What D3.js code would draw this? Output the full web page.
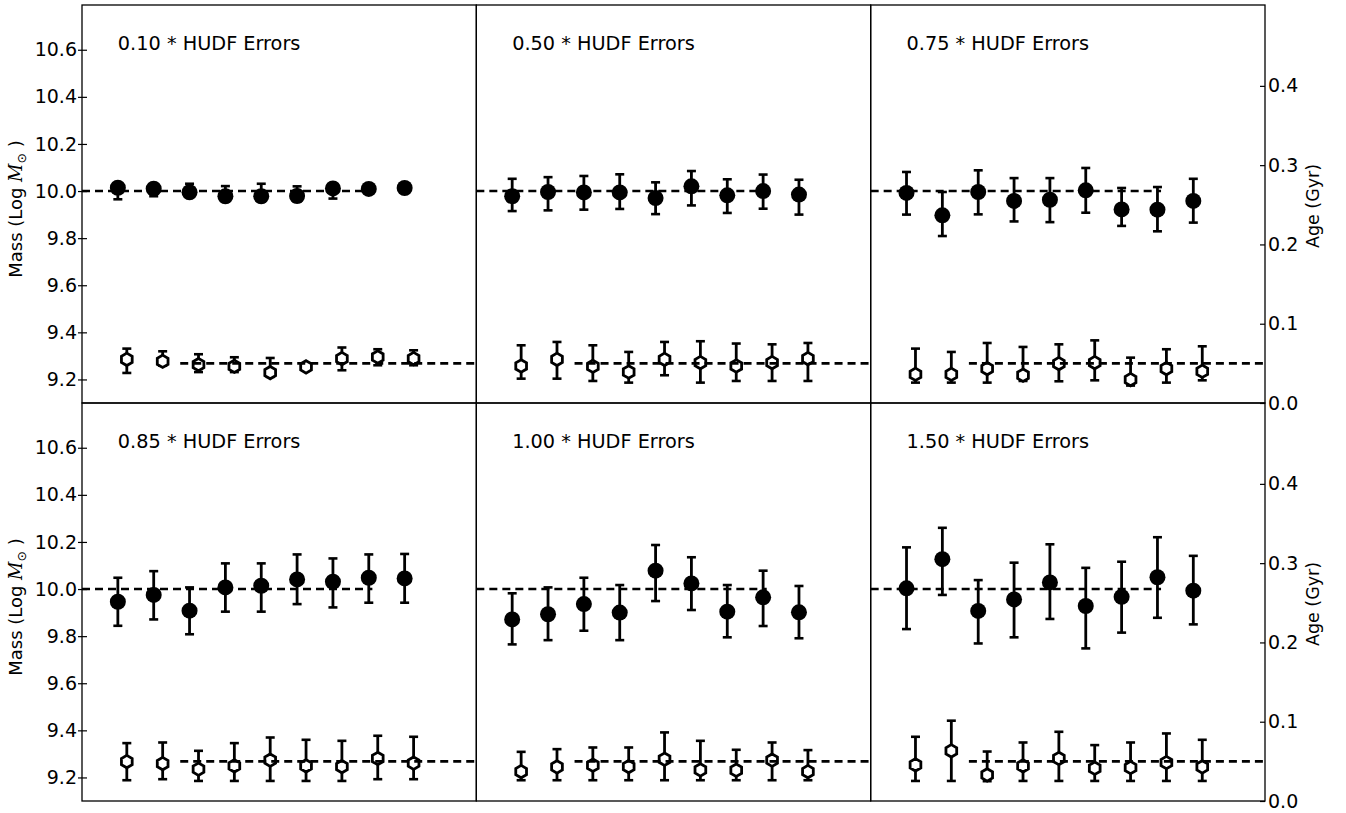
<!DOCTYPE html>
<html><head><meta charset="utf-8">
<script src="https://cdn.jsdelivr.net/npm/d3@7"></script>
<style>body{margin:0;background:#fff}svg{display:block}</style>
</head><body><svg id="c" width="1346" height="813"></svg>
<script>
// ---------------- data ----------------
const errFactors = ["0.10", "0.50", "0.75", "0.85", "1.00", "1.50"];
const runIndex = [1, 2, 3, 4, 5, 6, 7, 8, 9];
const massTicks = [9.2, 9.4, 9.6, 9.8, 10.0, 10.2, 10.4, 10.6];
const ageTicks = [0.0, 0.1, 0.2, 0.3, 0.4];
const trueMass = 10.0;
const trueAge = 0.05;

const massMid = [
  [10.014, 10.010, 9.995, 9.978, 9.978, 9.979, 10.011, 10.009, 10.013],
  [9.978, 9.996, 9.994, 9.994, 9.970, 10.020, 9.982, 10.000, 9.985],
  [9.992, 9.897, 9.996, 9.958, 9.963, 10.003, 9.922, 9.921, 9.958],
  [9.946, 9.975, 9.908, 10.007, 10.014, 10.041, 10.031, 10.048, 10.045],
  [9.871, 9.893, 9.936, 9.900, 10.078, 10.024, 9.904, 9.965, 9.901],
  [10.003, 10.127, 9.907, 9.956, 10.028, 9.928, 9.967, 10.050, 9.993]
];
const massHigh = [
  [10.030, 10.025, 10.031, 10.021, 10.031, 10.020, 10.030, 10.020, 10.025],
  [10.052, 10.059, 10.064, 10.071, 10.037, 10.085, 10.050, 10.070, 10.048],
  [10.081, 9.996, 10.088, 10.055, 10.055, 10.098, 10.013, 10.017, 10.052],
  [10.048, 10.076, 10.007, 10.109, 10.109, 10.147, 10.130, 10.147, 10.149],
  [9.982, 10.007, 10.048, 10.017, 10.187, 10.135, 10.017, 10.078, 10.013],
  [10.177, 10.260, 10.038, 10.112, 10.190, 10.090, 10.116, 10.220, 10.141]
];
const massLow = [
  [9.965, 9.978, 9.975, 9.955, 9.955, 9.955, 9.968, 9.995, 10.000],
  [9.915, 9.918, 9.921, 9.924, 9.902, 9.939, 9.907, 9.925, 9.900],
  [9.900, 9.809, 9.901, 9.871, 9.868, 9.908, 9.852, 9.829, 9.866],
  [9.844, 9.871, 9.808, 9.904, 9.904, 9.936, 9.922, 9.942, 9.942],
  [9.765, 9.783, 9.823, 9.783, 9.949, 9.911, 9.795, 9.843, 9.791],
  [9.830, 9.975, 9.769, 9.795, 9.873, 9.748, 9.815, 9.878, 9.850]
];
const ageMid = [
  [0.0551, 0.0526, 0.0484, 0.0463, 0.0383, 0.0455, 0.0560, 0.0580, 0.0560],
  [0.0467, 0.0551, 0.0463, 0.0391, 0.0551, 0.0510, 0.0467, 0.0510, 0.0560],
  [0.0362, 0.0362, 0.0434, 0.0350, 0.0497, 0.0510, 0.0295, 0.0434, 0.0400],
  [0.0497, 0.0472, 0.0401, 0.0443, 0.0515, 0.0443, 0.0434, 0.0536, 0.0477],
  [0.0371, 0.0430, 0.0451, 0.0434, 0.0527, 0.0392, 0.0388, 0.0515, 0.0371],
  [0.0456, 0.0633, 0.0329, 0.0443, 0.0536, 0.0413, 0.0422, 0.0485, 0.0430]
];
const ageHigh = [
  [0.0686, 0.0652, 0.0615, 0.0577, 0.0568, 0.0490, 0.0700, 0.0678, 0.0665],
  [0.0728, 0.0770, 0.0728, 0.0644, 0.0770, 0.0779, 0.0750, 0.0740, 0.0757],
  [0.0686, 0.0644, 0.0757, 0.0707, 0.0740, 0.0790, 0.0572, 0.0678, 0.0715],
  [0.0730, 0.0738, 0.0633, 0.0730, 0.0801, 0.0772, 0.0759, 0.0823, 0.0810],
  [0.0620, 0.0654, 0.0675, 0.0675, 0.0865, 0.0759, 0.0646, 0.0738, 0.0642],
  [0.0810, 0.1013, 0.0624, 0.0738, 0.0873, 0.0705, 0.0738, 0.0852, 0.0772]
];
const ageLow = [
  [0.0379, 0.0470, 0.0390, 0.0390, 0.0330, 0.0420, 0.0413, 0.0476, 0.0476],
  [0.0307, 0.0307, 0.0278, 0.0257, 0.0350, 0.0257, 0.0278, 0.0278, 0.0278],
  [0.0257, 0.0257, 0.0257, 0.0278, 0.0274, 0.0286, 0.0220, 0.0257, 0.0286],
  [0.0262, 0.0275, 0.0253, 0.0253, 0.0253, 0.0253, 0.0253, 0.0275, 0.0275],
  [0.0262, 0.0262, 0.0262, 0.0262, 0.0262, 0.0262, 0.0262, 0.0262, 0.0262],
  [0.0253, 0.0253, 0.0250, 0.0253, 0.0253, 0.0253, 0.0253, 0.0253, 0.0253]
];
// reference lines extent in x (data units)
const massLineX = [0, 8.1];
const ageLineX = [2.74, 11];
const ageOffset = 0.25;

// ---------------- layout ----------------
const L = 82, R = 1265, T = 5, B = 801;
const pw = (R - L) / 3, ph = (B - T) / 2;
const FONT = "'DejaVu Sans', sans-serif";
const svg = d3.select("#c");
svg.append("rect").attr("width", 1346).attr("height", 813).attr("fill", "#fff");

function hexPath(r) {
  const pts = d3.range(6).map(i => {
    const ang = -Math.PI / 2 + i * Math.PI / 3;
    return [r * Math.cos(ang), r * Math.sin(ang)];
  });
  return "M" + pts.map(p => p.join(",")).join("L") + "Z";
}

errFactors.forEach((fac, p) => {
  const row = Math.floor(p / 3), col = p % 3;
  const x0 = L + col * pw, y0 = T + row * ph;
  const x = d3.scaleLinear().domain([0, 11]).range([x0, x0 + pw]);
  const m = d3.scaleLinear().domain([9.1, 10.79]).range([y0 + ph, y0]);
  const a = d3.scaleLinear().domain([0, 0.502]).range([y0 + ph, y0]);
  const g = svg.append("g");

  // mass reference line
  g.append("line")
    .attr("x1", x(massLineX[0])).attr("x2", x(massLineX[1]))
    .attr("y1", m(trueMass)).attr("y2", m(trueMass))
    .attr("stroke", "#000").attr("stroke-width", 2.6).attr("stroke-dasharray", "8,5");

  // mass error bars
  const cap = 4.5;
  runIndex.forEach((r, i) => {
    const cx = x(r);
    g.append("line").attr("x1", cx).attr("x2", cx)
      .attr("y1", m(massLow[p][i])).attr("y2", m(massHigh[p][i]))
      .attr("stroke", "#000").attr("stroke-width", 2.8);
    [massLow[p][i], massHigh[p][i]].forEach(v => {
      g.append("line").attr("x1", cx - cap).attr("x2", cx + cap)
        .attr("y1", m(v)).attr("y2", m(v))
        .attr("stroke", "#000").attr("stroke-width", 2.6);
    });
  });
  g.selectAll(".mdot").data(runIndex).enter().append("circle")
    .attr("cx", r => x(r)).attr("cy", (r, i) => m(massMid[p][i]))
    .attr("r", 8).attr("fill", "#000");

  // age error bars
  runIndex.forEach((r, i) => {
    const cx = x(r + ageOffset);
    g.append("line").attr("x1", cx).attr("x2", cx)
      .attr("y1", a(ageLow[p][i])).attr("y2", a(ageHigh[p][i]))
      .attr("stroke", "#000").attr("stroke-width", 2.8);
    [ageLow[p][i], ageHigh[p][i]].forEach(v => {
      g.append("line").attr("x1", cx - cap).attr("x2", cx + cap)
        .attr("y1", a(v)).attr("y2", a(v))
        .attr("stroke", "#000").attr("stroke-width", 2.6);
    });
  });
  g.selectAll(".adot").data(runIndex).enter().append("path")
    .attr("d", hexPath(6.2))
    .attr("transform", (r, i) => `translate(${x(r + ageOffset)},${a(ageMid[p][i])})`)
    .attr("fill", "#fff").attr("stroke", "#000").attr("stroke-width", 2.8);

  // age reference line
  g.append("line")
    .attr("x1", x(ageLineX[0])).attr("x2", x(ageLineX[1]))
    .attr("y1", a(trueAge)).attr("y2", a(trueAge))
    .attr("stroke", "#000").attr("stroke-width", 2.6).attr("stroke-dasharray", "8,5");

  // panel label
  g.append("text").attr("x", x(1)).attr("y", m(10.597))
    .attr("font-family", FONT).attr("font-size", 19.3).attr("fill", "#000")
    .text(fac + " * HUDF Errors");

  // axes
  if (col === 0) {
    const ax = g.append("g").attr("transform", `translate(${x0},0)`)
      .call(d3.axisLeft(m).tickValues(massTicks).tickSize(4).tickPadding(1).tickFormat(d3.format(".1f")));
    ax.attr("font-family", FONT).attr("font-size", 19);
    ax.select(".domain").remove();
    ax.selectAll(".tick line").attr("x1", 5).attr("stroke", "#000").attr("stroke-width", 1.2);
    ax.selectAll(".tick text").attr("fill", "#000");
    const lab = g.append("text")
      .attr("transform", `translate(22,${y0 + ph / 2 + 5}) rotate(-90)`)
      .attr("text-anchor", "middle").attr("font-family", FONT).attr("font-size", 18).attr("fill", "#000");
    lab.append("tspan").text("Mass (Log ");
    lab.append("tspan").attr("font-family", "'DejaVu Serif', serif").attr("font-style", "italic").text("M");
    lab.append("tspan").attr("font-size", 12.5).attr("dy", 4).text("\u2299");
    lab.append("tspan").attr("dy", -4).text("  )");
  }
  if (col === 2) {
    const ax = g.append("g").attr("transform", `translate(${x0 + pw},0)`)
      .call(d3.axisRight(a).tickValues(ageTicks).tickSize(-5).tickPadding(3).tickFormat(d3.format(".1f")));
    ax.attr("font-family", FONT).attr("font-size", 19);
    ax.select(".domain").remove();
    ax.selectAll(".tick line").attr("stroke", "#000").attr("stroke-width", 1.2);
    ax.selectAll(".tick text").attr("fill", "#000");
    g.append("text")
      .attr("transform", `translate(1319,${y0 + ph / 2 + 2}) rotate(-90)`)
      .attr("text-anchor", "middle").attr("font-family", FONT).attr("font-size", 17.5).attr("fill", "#000")
      .text("Age (Gyr)");
  }

  // frame
  g.append("rect").attr("x", x0).attr("y", y0).attr("width", pw).attr("height", ph)
    .attr("fill", "none").attr("stroke", "#000").attr("stroke-width", 1.3);
});
</script>
</body></html>
